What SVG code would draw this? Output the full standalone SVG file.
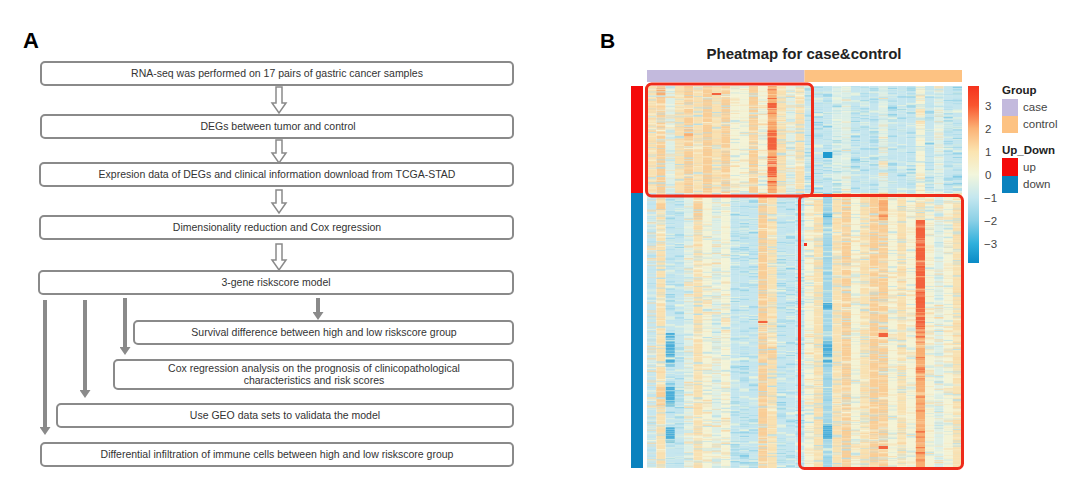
<svg xmlns="http://www.w3.org/2000/svg" width="1080" height="484" viewBox="0 0 1080 484">
<style>
.lbl{font-family:"Liberation Sans",Arial,sans-serif;font-weight:bold;fill:#000}
.box{fill:#fff;stroke:#8a8a8a;stroke-width:2}
.t{font-family:"Liberation Sans",Arial,sans-serif;font-size:10.5px;fill:#333;text-anchor:middle}
.harrow{fill:#fff;stroke:#8a8a8a;stroke-width:1.5;stroke-linejoin:miter}
.sarrow{stroke:#8a8a8a;stroke-width:4;fill:none}
.leg{font-family:"Liberation Sans",Arial,sans-serif;font-size:11.5px;fill:#444}
.legb{font-family:"Liberation Sans",Arial,sans-serif;font-size:11.5px;font-weight:bold;fill:#222}
.p{fill:#F3F3D6}.pb{fill:#DDEFE6}.lb{fill:#C6E6EE}.b{fill:#A2D6E7}.db{fill:#4AAED9}.lo{fill:#F8E1B2}.o{fill:#F9CD96}.do{fill:#F8AE72}.r{fill:#F3623E}
.n{filter:url(#fn)}.c{filter:url(#fc)}.w{filter:url(#fw)}
.hl{fill:none;stroke:#EE2B1A;stroke-width:3}
</style>
<defs>
<marker id="ah" markerUnits="userSpaceOnUse" markerWidth="11" markerHeight="11" refX="0" refY="5.5" orient="auto">
<path d="M0,0 L8,5.5 L0,11 z" fill="#8a8a8a"/>
</marker>
<linearGradient id="cbar" x1="0" y1="0" x2="0" y2="1">
<stop offset="0" stop-color="#F5331E"/>
<stop offset="0.11" stop-color="#F9552F"/>
<stop offset="0.24" stop-color="#FBB276"/>
<stop offset="0.37" stop-color="#FBE4B0"/>
<stop offset="0.5" stop-color="#F2F6DC"/>
<stop offset="0.63" stop-color="#C4E7EF"/>
<stop offset="0.76" stop-color="#8BD0E6"/>
<stop offset="0.89" stop-color="#2FB0DC"/>
<stop offset="1" stop-color="#0A8BC6"/>
</linearGradient>
<filter id="fn" x="0" y="0" width="1" height="1" color-interpolation-filters="sRGB">
<feTurbulence type="fractalNoise" baseFrequency="0.0005 0.4" numOctaves="3" seed="3" result="nz"/>
<feColorMatrix in="nz" type="matrix" values="0 0 0 0 0.70 0 0 0 0 0.87 0 0 0 0 0.92 3 0 0 0 -1.62" result="a"/>
<feColorMatrix in="nz" type="matrix" values="0 0 0 0 0.98 0 0 0 0 0.84 0 0 0 0 0.64 0 3 0 0 -1.62" result="b"/>
<feColorMatrix in="nz" type="matrix" values="0 0 0 0 0.96 0 0 0 0 0.96 0 0 0 0 0.85 0 0 3 0 -1.55" result="d"/>
<feMerge result="m"><feMergeNode in="SourceGraphic"/><feMergeNode in="d"/><feMergeNode in="a"/><feMergeNode in="b"/></feMerge>
<feComposite in="m" in2="SourceGraphic" operator="in"/>
</filter>
<filter id="fc" x="0" y="0" width="1" height="1" color-interpolation-filters="sRGB">
<feTurbulence type="fractalNoise" baseFrequency="0.0005 0.4" numOctaves="3" seed="11" result="nz"/>
<feColorMatrix in="nz" type="matrix" values="0 0 0 0 0.74 0 0 0 0 0.89 0 0 0 0 0.93 3 0 0 0 -1.62" result="a"/>
<feColorMatrix in="nz" type="matrix" values="0 0 0 0 0.52 0 0 0 0 0.80 0 0 0 0 0.90 0 3 0 0 -1.65" result="b"/>
<feColorMatrix in="nz" type="matrix" values="0 0 0 0 0.93 0 0 0 0 0.96 0 0 0 0 0.86 0 0 3 0 -1.55" result="d"/>
<feMerge result="m"><feMergeNode in="SourceGraphic"/><feMergeNode in="d"/><feMergeNode in="a"/><feMergeNode in="b"/></feMerge>
<feComposite in="m" in2="SourceGraphic" operator="in"/>
</filter>
<filter id="fw" x="0" y="0" width="1" height="1" color-interpolation-filters="sRGB">
<feTurbulence type="fractalNoise" baseFrequency="0.0005 0.4" numOctaves="3" seed="23" result="nz"/>
<feColorMatrix in="nz" type="matrix" values="0 0 0 0 0.98 0 0 0 0 0.74 0 0 0 0 0.50 3 0 0 0 -1.62" result="a"/>
<feColorMatrix in="nz" type="matrix" values="0 0 0 0 0.95 0 0 0 0 0.36 0 0 0 0 0.20 0 3 0 0 -1.62" result="b"/>
<feColorMatrix in="nz" type="matrix" values="0 0 0 0 0.98 0 0 0 0 0.88 0 0 0 0 0.70 0 0 3 0 -1.55" result="d"/>
<feMerge result="m"><feMergeNode in="SourceGraphic"/><feMergeNode in="d"/><feMergeNode in="a"/><feMergeNode in="b"/></feMerge>
<feComposite in="m" in2="SourceGraphic" operator="in"/>
</filter>
</defs>
<rect width="1080" height="484" fill="#fff"/>

<!-- Panel A -->
<text class="lbl" x="23" y="48" font-size="22">A</text>

<g id="connectors">
<path class="harrow" d="M276,87 H282 V103 H286 L279,113 L272,103 H276 Z"/>
<path class="harrow" d="M276,140 H282 V153 H286 L279,163 L272,153 H276 Z"/>
<path class="harrow" d="M276,190 H282 V203 H286 L279,213 L272,203 H276 Z"/>
<path class="harrow" d="M276,244 H282 V260 H286 L279,270 L272,260 H276 Z"/>
<line class="sarrow" x1="45" y1="300" x2="45" y2="427" marker-end="url(#ah)"/>
<line class="sarrow" x1="85" y1="300" x2="85" y2="390" marker-end="url(#ah)"/>
<line class="sarrow" x1="125" y1="298" x2="125" y2="347" marker-end="url(#ah)"/>
<line class="sarrow" x1="318" y1="298" x2="318" y2="312" marker-end="url(#ah)"/>
</g>

<g id="n1"><rect class="box" x="41" y="62" width="472" height="23" rx="4"/><text class="t" x="277" y="77">RNA-seq was performed on 17 pairs of gastric cancer samples</text></g>
<g id="n2"><rect class="box" x="41" y="115" width="472" height="23" rx="4"/><text class="t" x="278" y="130">DEGs between tumor and control</text></g>
<g id="n3"><rect class="box" x="40" y="163" width="473" height="23" rx="4"/><text class="t" x="277" y="178">Expresion data of DEGs and clinical information download from TCGA-STAD</text></g>
<g id="n4"><rect class="box" x="40" y="216" width="473" height="23" rx="4"/><text class="t" x="277" y="231">Dimensionality reduction and Cox regression</text></g>
<g id="n5"><rect class="box" x="39" y="271" width="474" height="23" rx="4"/><text class="t" x="276" y="286">3-gene riskscore model</text></g>
<g id="n6"><rect class="box" x="134" y="321" width="379" height="23" rx="4"/><text class="t" x="324" y="336">Survival difference between high and low riskscore group</text></g>
<g id="n7"><rect class="box" x="114" y="360" width="399" height="29" rx="4"/><text class="t" x="314" y="372">Cox regression analysis on the prognosis of clinicopathological</text><text class="t" x="314" y="384">characteristics and risk scores</text></g>
<g id="n8"><rect class="box" x="57" y="404" width="456" height="23" rx="4"/><text class="t" x="285" y="419">Use GEO data sets to validata the model</text></g>
<g id="n9"><rect class="box" x="41" y="443" width="472" height="23" rx="4"/><text class="t" x="277" y="458">Differential infiltration of immune cells between high and low riskscore group</text></g>

<!-- Panel B -->
<text class="lbl" x="600" y="48" font-size="21">B</text>
<text x="804" y="59" font-family="Liberation Sans, Arial, sans-serif" font-size="15" font-weight="bold" fill="#222" text-anchor="middle">Pheatmap for case&amp;control</text>

<g id="group-bar">
<rect x="647" y="70" width="157.5" height="12" fill="#C3BADD"/>
<rect x="804.5" y="70" width="157.5" height="12" fill="#FDC282"/>
</g>
<g id="row-bar">
<rect x="631" y="86" width="12" height="107" fill="#F40A0A"/>
<rect x="631" y="193" width="12" height="275" fill="#0A82BE"/>
</g>

<g id="heatmap-top">
<rect class="lo n" x="647" y="86" width="9.5" height="107"/>
<rect class="o n" x="656.26" y="259" width="9.5" height="107" transform="translate(0,-173)"/>
<rect class="pb n" x="665.53" y="432" width="9.5" height="107" transform="translate(0,-346)"/>
<rect class="lo n" x="674.79" y="605" width="9.5" height="107" transform="translate(0,-519)"/>
<rect class="o n" x="684.06" y="778" width="9.5" height="107" transform="translate(0,-692)"/>
<rect class="lo n" x="693.32" y="951" width="9.5" height="107" transform="translate(0,-865)"/>
<rect class="o n" x="702.59" y="1124" width="9.5" height="107" transform="translate(0,-1038)"/>
<rect class="lo n" x="711.85" y="1297" width="9.5" height="107" transform="translate(0,-1211)"/>
<rect class="o n" x="721.12" y="1470" width="9.5" height="107" transform="translate(0,-1384)"/>
<rect class="p n" x="730.38" y="1643" width="9.5" height="107" transform="translate(0,-1557)"/>
<rect class="p n" x="739.65" y="1816" width="9.5" height="107" transform="translate(0,-1730)"/>
<rect class="o n" x="748.91" y="1989" width="9.5" height="107" transform="translate(0,-1903)"/>
<rect class="p n" x="758.18" y="2162" width="9.5" height="107" transform="translate(0,-2076)"/>
<rect class="do w" x="767.44" y="2335" width="9.5" height="107" transform="translate(0,-2249)"/>
<rect class="lo n" x="776.71" y="2508" width="9.5" height="107" transform="translate(0,-2422)"/>
<rect class="pb n" x="785.97" y="2681" width="9.5" height="107" transform="translate(0,-2595)"/>
<rect class="lo n" x="795.24" y="2854" width="9.5" height="107" transform="translate(0,-2768)"/>
<rect class="lb c" x="804.5" y="3027" width="9.5" height="107" transform="translate(0,-2941)"/>
<rect class="lb c" x="813.76" y="3200" width="9.5" height="107" transform="translate(0,-3114)"/>
<rect class="lb c" x="823.03" y="3373" width="9.5" height="107" transform="translate(0,-3287)"/>
<rect class="pb c" x="832.29" y="3546" width="9.5" height="107" transform="translate(0,-3460)"/>
<rect class="pb n" x="841.56" y="3719" width="9.5" height="107" transform="translate(0,-3633)"/>
<rect class="lb c" x="850.82" y="3892" width="9.5" height="107" transform="translate(0,-3806)"/>
<rect class="lb c" x="860.09" y="4065" width="9.5" height="107" transform="translate(0,-3979)"/>
<rect class="lb c" x="869.35" y="4238" width="9.5" height="107" transform="translate(0,-4152)"/>
<rect class="pb n" x="878.62" y="4411" width="9.5" height="107" transform="translate(0,-4325)"/>
<rect class="lb c" x="887.88" y="4584" width="9.5" height="107" transform="translate(0,-4498)"/>
<rect class="lb c" x="897.15" y="4757" width="9.5" height="107" transform="translate(0,-4671)"/>
<rect class="lb c" x="906.41" y="4930" width="9.5" height="107" transform="translate(0,-4844)"/>
<rect class="p n" x="915.68" y="5103" width="9.5" height="107" transform="translate(0,-5017)"/>
<rect class="lb c" x="924.94" y="5276" width="9.5" height="107" transform="translate(0,-5190)"/>
<rect class="pb n" x="934.21" y="5449" width="9.5" height="107" transform="translate(0,-5363)"/>
<rect class="lb c" x="943.47" y="5622" width="9.5" height="107" transform="translate(0,-5536)"/>
<rect class="lb c" x="952.74" y="5795" width="9.26" height="107" transform="translate(0,-5709)"/>
<rect class="do n" x="656.26" y="88" width="9.3" height="10"/>
<rect class="o n" x="656.26" y="180" width="9.3" height="6"/>
<rect class="do n" x="684.06" y="127" width="9.3" height="10"/>
<rect class="r" x="711.85" y="93" width="9.3" height="2"/>
<rect class="r w" x="767.44" y="103" width="9.3" height="7"/>
<rect class="r w" x="767.44" y="133" width="9.3" height="17"/>
<rect class="r w" x="767.44" y="160" width="9.3" height="17"/>
<rect x="823.03" y="152" width="9.3" height="6" fill="#1E9ACF"/>
</g>

<g id="heatmap-bottom">
<rect class="lb n" x="647" y="10193" width="9.5" height="275" transform="translate(0,-10000)"/>
<rect class="lo n" x="656.26" y="10504" width="9.5" height="275" transform="translate(0,-10311)"/>
<rect class="lb c" x="665.53" y="10815" width="9.5" height="275" transform="translate(0,-10622)"/>
<rect class="lb c" x="674.79" y="11126" width="9.5" height="275" transform="translate(0,-10933)"/>
<rect class="pb n" x="684.06" y="11437" width="9.5" height="275" transform="translate(0,-11244)"/>
<rect class="lo n" x="693.32" y="11748" width="9.5" height="275" transform="translate(0,-11555)"/>
<rect class="p n" x="702.59" y="12059" width="9.5" height="275" transform="translate(0,-11866)"/>
<rect class="pb n" x="711.85" y="12370" width="9.5" height="275" transform="translate(0,-12177)"/>
<rect class="p n" x="721.12" y="12681" width="9.5" height="275" transform="translate(0,-12488)"/>
<rect class="lb c" x="730.38" y="12992" width="9.5" height="275" transform="translate(0,-12799)"/>
<rect class="lb c" x="739.65" y="13303" width="9.5" height="275" transform="translate(0,-13110)"/>
<rect class="lb c" x="748.91" y="13614" width="9.5" height="275" transform="translate(0,-13421)"/>
<rect class="o n" x="758.18" y="13925" width="9.5" height="275" transform="translate(0,-13732)"/>
<rect class="lo n" x="767.44" y="14236" width="9.5" height="275" transform="translate(0,-14043)"/>
<rect class="lb c" x="776.71" y="14547" width="9.5" height="275" transform="translate(0,-14354)"/>
<rect class="lb c" x="785.97" y="14858" width="9.5" height="275" transform="translate(0,-14665)"/>
<rect class="lb c" x="795.24" y="15169" width="9.5" height="275" transform="translate(0,-14976)"/>
<rect class="p n" x="804.5" y="15480" width="9.5" height="275" transform="translate(0,-15287)"/>
<rect class="lo n" x="813.76" y="15791" width="9.5" height="275" transform="translate(0,-15598)"/>
<rect class="b c" x="823.03" y="16102" width="9.5" height="275" transform="translate(0,-15909)"/>
<rect class="lo n" x="832.29" y="16413" width="9.5" height="275" transform="translate(0,-16220)"/>
<rect class="o n" x="841.56" y="16724" width="9.5" height="275" transform="translate(0,-16531)"/>
<rect class="p n" x="850.82" y="17035" width="9.5" height="275" transform="translate(0,-16842)"/>
<rect class="lo n" x="860.09" y="17346" width="9.5" height="275" transform="translate(0,-17153)"/>
<rect class="o n" x="869.35" y="17657" width="9.5" height="275" transform="translate(0,-17464)"/>
<rect class="o n" x="878.62" y="17968" width="9.5" height="275" transform="translate(0,-17775)"/>
<rect class="p n" x="887.88" y="18279" width="9.5" height="275" transform="translate(0,-18086)"/>
<rect class="lo n" x="897.15" y="18590" width="9.5" height="275" transform="translate(0,-18397)"/>
<rect class="p n" x="906.41" y="18901" width="9.5" height="275" transform="translate(0,-18708)"/>
<rect class="do w" x="915.68" y="19212" width="9.5" height="275" transform="translate(0,-19019)"/>
<rect class="p n" x="924.94" y="19523" width="9.5" height="275" transform="translate(0,-19330)"/>
<rect class="pb n" x="934.21" y="19834" width="9.5" height="275" transform="translate(0,-19641)"/>
<rect class="p n" x="943.47" y="20145" width="9.5" height="275" transform="translate(0,-19952)"/>
<rect class="lo n" x="952.74" y="20456" width="9.26" height="275" transform="translate(0,-20263)"/>
<rect class="o n" x="656.26" y="203" width="9.3" height="7"/>
<rect class="o n" x="656.26" y="387" width="9.3" height="20"/>
<rect class="db c" x="665.53" y="333" width="9.3" height="34"/>
<rect class="db c" x="665.53" y="387" width="9.3" height="20"/>
<rect class="db c" x="665.53" y="427" width="9.3" height="16"/>
<rect class="o n" x="693.32" y="200" width="9.3" height="20"/>
<rect class="r" x="758.18" y="321" width="9.3" height="2"/>
<rect class="o n" x="767.44" y="347" width="9.3" height="13"/>
<rect class="db c" x="823.03" y="213" width="9.3" height="4"/>
<rect class="db c" x="823.03" y="303" width="9.3" height="7"/>
<rect class="db c" x="823.03" y="340" width="9.3" height="27"/>
<rect class="db c" x="823.03" y="423" width="9.3" height="17"/>
<rect class="do w" x="878.62" y="200" width="9.3" height="20"/>
<rect class="r" x="878.62" y="333" width="9.3" height="4"/>
<rect class="r" x="878.62" y="446" width="9.3" height="3"/>
<rect class="lo n" x="915.68" y="193" width="9.3" height="27"/>
<rect class="r w" x="915.68" y="220" width="9.3" height="113"/>
<rect x="804" y="243" width="3" height="3" fill="#F03020"/>
</g>

<g id="highlight-boxes">
<rect class="hl" x="646.5" y="84" width="166" height="112" rx="5"/>
<rect class="hl" x="799.5" y="195.5" width="163" height="273" rx="5"/>
</g>

<g id="colorbar">
<rect x="968" y="86" width="11" height="177" fill="url(#cbar)"/>
<text class="leg" x="985" y="110">3</text>
<text class="leg" x="985" y="133">2</text>
<text class="leg" x="985" y="156">1</text>
<text class="leg" x="985" y="179">0</text>
<text class="leg" x="984" y="202">−1</text>
<text class="leg" x="984" y="225">−2</text>
<text class="leg" x="984" y="248">−3</text>
</g>

<g id="legend">
<text class="legb" x="1002" y="94">Group</text>
<rect x="1002" y="99" width="16" height="17" fill="#C3BADD"/>
<rect x="1002" y="116" width="16" height="17" fill="#FDC282"/>
<text class="leg" x="1023" y="111">case</text>
<text class="leg" x="1023" y="128">control</text>
<text class="legb" x="1002" y="154">Up_Down</text>
<rect x="1002" y="158" width="16" height="18" fill="#F40A0A"/>
<rect x="1002" y="176" width="16" height="17" fill="#0A82BE"/>
<text class="leg" x="1023" y="171">up</text>
<text class="leg" x="1023" y="188">down</text>
</g>
</svg>
